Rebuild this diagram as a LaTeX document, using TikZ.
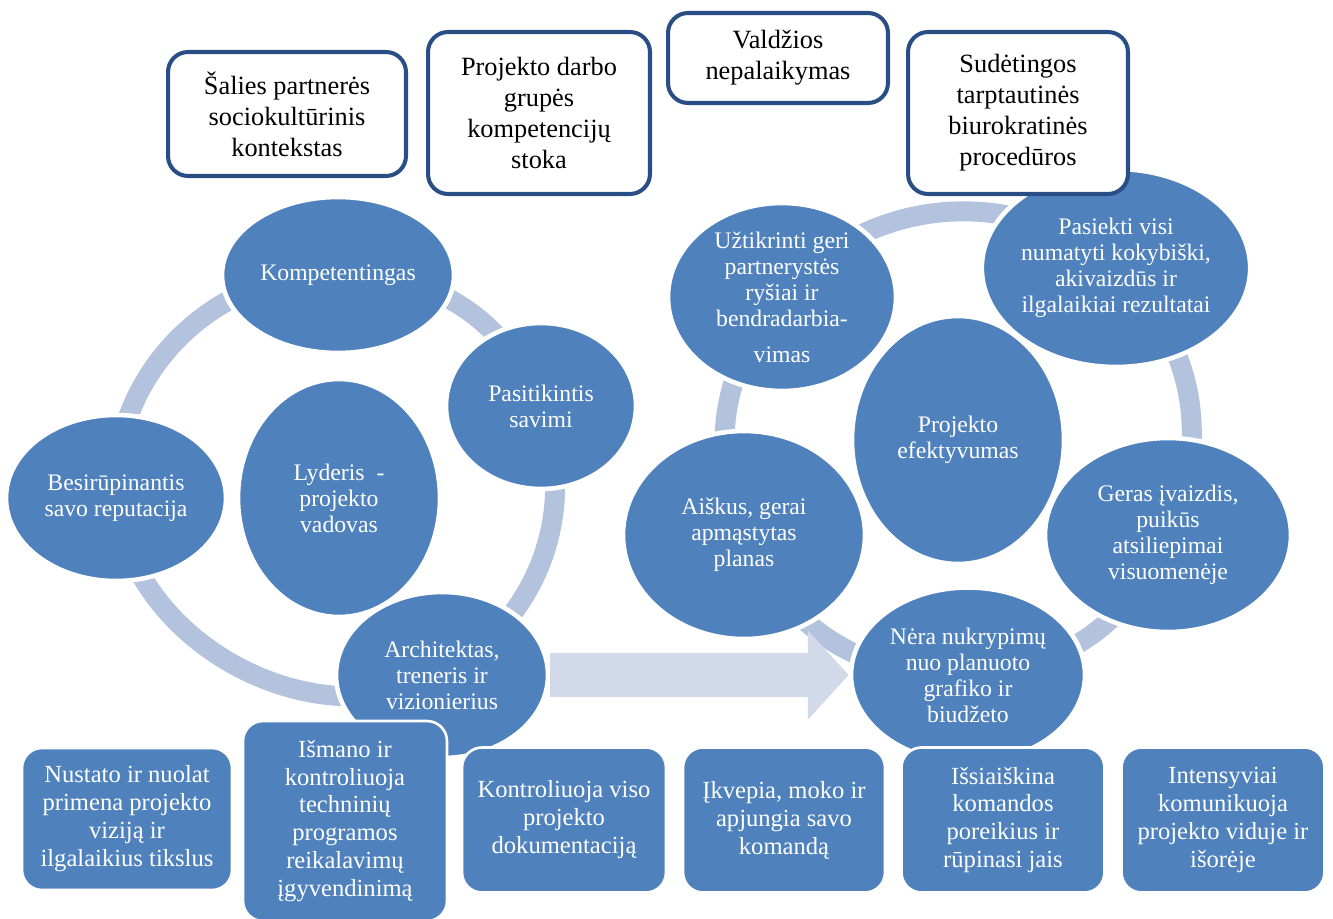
\documentclass[tikz,border=0pt]{standalone}
\usepackage{fontspec}
\setmainfont{Liberation Serif}
\usepackage{tikz}
\usetikzlibrary{arrows.meta}
\usetikzlibrary{shapes.geometric}
\usetikzlibrary{positioning}
\definecolor{nodeblue}{HTML}{4F81BD}
\definecolor{ringblue}{HTML}{B3C3DE}
\definecolor{arrowblue}{HTML}{D2D9E9}
\definecolor{riskborder}{HTML}{284E85}
\pgfdeclarelayer{background}
\pgfsetlayers{background,main}
\newcommand\ringwd{.4cm}
\newcommand\traitfont{\fontsize{13.5}{14.8}\selectfont}
\newcommand\dutyfont{\fontsize{14}{15.9}\selectfont}
\newcommand\riskfont{\fontsize{15}{17.6}\selectfont}
\newcommand\ringarc[3]{\draw[ring] (#1.center) to[bend left=#3] (#2.center);}
\tikzstyle{trait} = [ellipse, fill=nodeblue, draw=white, line width=2.6pt, inner sep=0pt,
  text=white, align=center, font=\traitfont]
\tikzstyle{ring}  = [draw=ringblue, line width=\ringwd]
\tikzstyle{duty}  = [rectangle, rounded corners=.4cm, fill=nodeblue, draw=white, line width=1.5pt,
  inner sep=0pt, text=white, align=center, font=\dutyfont]
\tikzstyle{risk}  = [rectangle, rounded corners=.4cm, fill=white, draw=riskborder, line width=2.3pt,
  inner sep=0pt, align=center, font=\riskfont]
\tikzstyle{bigarrow} = [draw=arrowblue, line width=.9cm, -{Triangle[length=.82cm, width=1.74cm]}]
\begin{document}
\begin{tikzpicture}[x=.02cm,y=-.02cm]
  \useasboundingbox (0,0) rectangle (1333,919);
  % leader
  \node[trait, minimum width=4.64cm, minimum height=3.12cm] (komp)  at (338,275) {Kompetentingas};
  \node[trait, minimum width=3.8cm,  minimum height=3.32cm] (pasit) at (541,406) {Pasitikintis\\savimi};
  \node[trait, minimum width=4.04cm, minimum height=4.76cm] (lyder) at (339,498) {Lyderis\ \ -\\projekto\\vadovas};
  \node[trait, minimum width=4.4cm,  minimum height=3.32cm] (besir) at (116,498) {Besirūpinantis\\savo reputacija};
  \node[trait, minimum width=4.24cm, minimum height=3.32cm] (arch)  at (442,675) {Architektas,\\treneris ir\\vizionierius};
  % efficiency
  \node[trait, minimum width=4.56cm, minimum height=3.76cm] (uzt)    at (782,297)  {Užtikrinti geri\\partnerystės\\ryšiai ir\\bendradarbia-\\[.2cm]vimas};
  \node[trait, minimum width=5.24cm, minimum height=3.96cm] (pasiek) at (1116,268) {Pasiekti visi\\numatyti kokybiški,\\akivaizdūs ir\\ilgalaikiai rezultatai};
  \node[trait, minimum width=4.24cm, minimum height=4.96cm] (efekt)  at (958,440)  {Projekto\\efektyvumas};
  \node[trait, minimum width=4.84cm, minimum height=4.16cm] (aisk)   at (744,535)  {Aiškus, gerai\\apmąstytas\\planas};
  \node[trait, minimum width=4.92cm, minimum height=3.88cm] (geras)  at (1168,535) {Geras įvaizdis,\\puikūs\\atsiliepimai\\visuomenėje};
  \node[trait, minimum width=4.68cm, minimum height=3.5cm]  (nera)   at (968,675)  {Nėra nukrypimų\\nuo planuoto\\grafiko ir\\biudžeto};
  % cycles
  \begin{pgfonlayer}{background}
    \ringarc{komp}{pasit}{35}
    \ringarc{pasit}{arch}{40}
    \ringarc{arch}{besir}{56}
    \ringarc{besir}{komp}{48}
    \ringarc{uzt}{pasiek}{46}
    \ringarc{pasiek}{geras}{36}
    \ringarc{geras}{nera}{32}
    \ringarc{nera}{aisk}{34}
    \ringarc{aisk}{uzt}{31}
  \end{pgfonlayer}
  \draw[bigarrow] (arch.east) -- (nera.west);
  % duties
  \node[duty, minimum width=4.2cm,  minimum height=2.84cm] (vizija)  at (127,819)  {Nustato ir nuolat\\primena projekto\\viziją ir\\ilgalaikius tikslus};
  \node[duty, minimum width=4.08cm, minimum height=4cm]    (tech)    at (345,821)  {Išmano ir\\kontroliuoja\\techninių\\programos\\reikalavimų\\įgyvendinimą};
  \node[duty, minimum width=4.08cm, minimum height=2.9cm]  (dok)     at (564,820)  {Kontroliuoja viso\\projekto\\dokumentaciją};
  \node[duty, minimum width=4.04cm, minimum height=2.9cm]  (komanda) at (784,820)  {Įkvepia, moko ir\\apjungia savo\\komandą};
  \node[duty, minimum width=4.06cm, minimum height=2.9cm]  (poreik)  at (1003,820) {Išsiaiškina\\komandos\\poreikius ir\\rūpinasi jais};
  \node[duty, minimum width=4.06cm, minimum height=2.9cm]  (komun)   at (1223,820) {Intensyviai\\komunikuoja\\projekto viduje ir\\išorėje};
  % risks
  \node[risk, minimum width=4.76cm, minimum height=2.48cm] (salis)  at (287,114)  {Šalies partnerės\\sociokultūrinis\\kontekstas};
  \node[risk, minimum width=4.44cm, minimum height=3.24cm] (grupe)  at (539,113)  {Projekto darbo\\grupės\\kompetencijų\\stoka};
  \node[risk, minimum width=4.4cm,  minimum height=1.8cm]  (valdz)  at (778,58)   {Valdžios\\nepalaikymas};
  \node[risk, minimum width=4.4cm,  minimum height=3.24cm] (biurok) at (1018,113) {Sudėtingos\\tarptautinės\\biurokratinės\\procedūros};
\end{tikzpicture}
\end{document}
